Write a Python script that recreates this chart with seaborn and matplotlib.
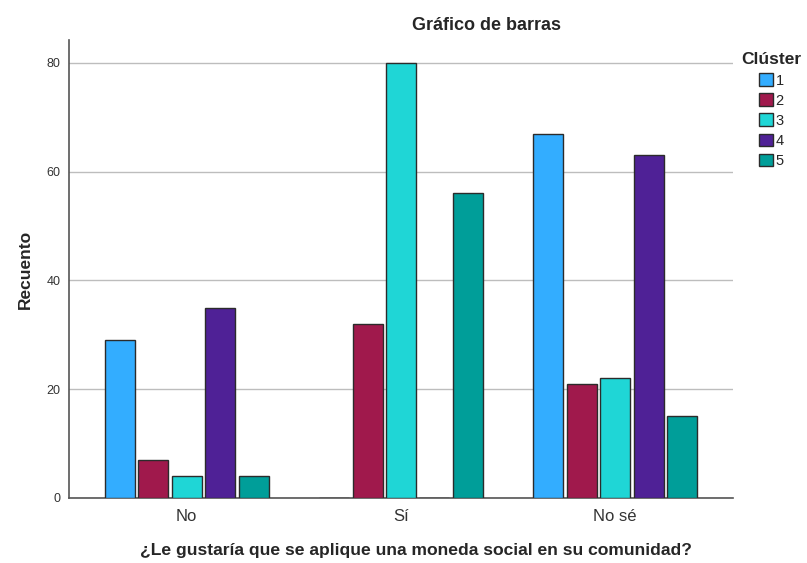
import matplotlib
matplotlib.use("Agg")
import matplotlib.pyplot as plt
import pandas as pd
import seaborn as sns

# values
categories = ["No", "Sí", "No sé"]
clusters = ["1", "2", "3", "4", "5"]
counts_no = [29, 7, 4, 35, 4]
counts_si = [0, 32, 80, 0, 56]
counts_nose = [67, 21, 22, 63, 15]
palette = ["#33adff", "#a0194c", "#1fd6d6", "#4f2196", "#009e99"]

rows = []
for cat, vals in zip(categories, [counts_no, counts_si, counts_nose]):
    for cl, v in zip(clusters, vals):
        rows.append({"respuesta": cat, "Clúster": cl, "Recuento": v})
df = pd.DataFrame(rows)

sns.set_style("white")
plt.rcParams["font.family"] = ["Liberation Sans", "DejaVu Sans"]

fig = plt.figure(figsize=(8.07, 5.63), dpi=100)
ax = fig.add_axes([69 / 807, 1 - 498 / 563, 664 / 807, 458 / 563])

sns.barplot(
    data=df,
    x="respuesta",
    y="Recuento",
    hue="Clúster",
    palette=palette,
    saturation=1,
    width=0.78,
    gap=0.1,
    edgecolor="#2b2b2b",
    linewidth=1.0,
    ax=ax,
    zorder=3,
)

ax.set_xlim(-0.55, 2.55)
ax.set_ylim(0, 84.2)
ax.set_yticks([0, 20, 40, 60, 80])
ax.yaxis.grid(True, color="#bdbdbd", linewidth=1.0, zorder=0)
ax.set_axisbelow(True)
for s in ["top", "right"]:
    ax.spines[s].set_visible(False)
for s in ["left", "bottom"]:
    ax.spines[s].set_color("#555555")
    ax.spines[s].set_linewidth(1.2)
ax.tick_params(axis="both", length=0)
ax.tick_params(axis="x", labelsize=12, pad=8, colors="#333333")
ax.tick_params(axis="y", labelsize=9, pad=6, colors="#333333")

ax.set_xlabel("")
ax.set_ylabel("Recuento", fontsize=12.5, fontweight="bold", labelpad=10)
fig.text(416 / 807, 1 - 551 / 563, "¿Le gustaría que se aplique una moneda social en su comunidad?",
         ha="center", va="center", fontsize=12.6, fontweight="bold")
fig.text(487 / 807, 1 - 25 / 563, "Gráfico de barras",
         ha="center", va="center", fontsize=13, fontweight="bold")

leg = ax.legend(
    title="Clúster",
    loc="upper left",
    bbox_to_anchor=(737 / 807, 1 - 48 / 563),
    bbox_transform=fig.transFigure,
    frameon=False,
    fontsize=10.5,
    title_fontproperties={"weight": "bold", "size": 12.5},
    handlelength=0.95,
    handleheight=0.95,
    handletextpad=0.15,
    labelspacing=0.4,
    borderaxespad=0.0,
    borderpad=0.3,
)

fig.savefig("out.png", dpi=100)
